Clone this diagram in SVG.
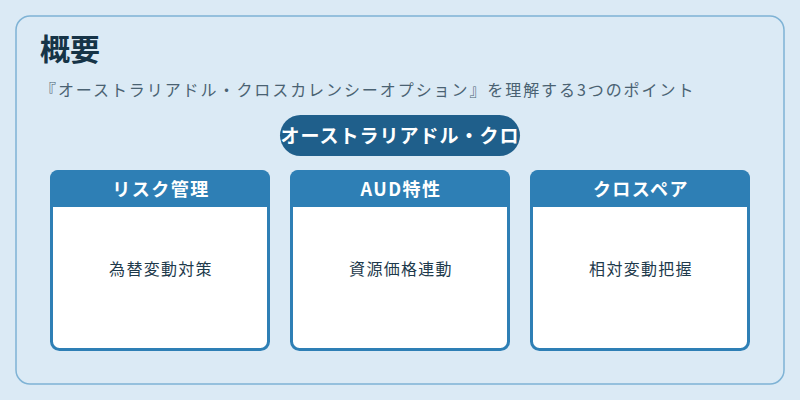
<svg xmlns="http://www.w3.org/2000/svg" width="800" height="400" viewBox="0 0 800 400">
<style>
text{font-family:"Noto Sans CJK JP","Noto Sans",sans-serif}
.card{fill:#fff;stroke:#2e7fb5;stroke-width:3}
.hd{fill:#2e7fb5}
.ht{fill:#fff;font-size:18px;font-weight:bold;text-anchor:middle;letter-spacing:1.5px}
.bt{fill:#1e3a4c;font-size:16px;text-anchor:middle;letter-spacing:1.3px}
</style>
<rect width="800" height="400" fill="#dbeaf5"/>
<rect x="16" y="16" width="768" height="368" rx="14" fill="#dbeaf5" stroke="#7fb3d5" stroke-width="1.5"/>
<text x="40" y="60" font-size="30" font-weight="bold" fill="#163447">概要</text>
<text x="40" y="96" font-size="16" fill="#4a6272" letter-spacing="1.6" textLength="655" lengthAdjust="spacing">『オーストラリアドル・クロスカレンシーオプション』を理解する3つのポイント</text>
<g id="pill"><rect x="280" y="115" width="240" height="41" rx="20.5" fill="#1f5f8b"/>
<text x="400" y="143" font-size="19" font-weight="bold" fill="#fff" text-anchor="middle" letter-spacing="1">オーストラリアドル・クロ</text></g>
<g id="c1"><rect class="card" x="51.5" y="171.5" width="217" height="178" rx="8"/><path class="hd" d="M50 178a8 8 0 0 1 8-8h204a8 8 0 0 1 8 8v29H50z"/><text class="ht" x="161" y="196">リスク管理</text><text class="bt" x="161" y="275">為替変動対策</text></g>
<g id="c2"><rect class="card" x="291.5" y="171.5" width="217" height="178" rx="8"/><path class="hd" d="M290 178a8 8 0 0 1 8-8h204a8 8 0 0 1 8 8v29H290z"/><text class="ht" x="401" y="196">AUD特性</text><text class="bt" x="401" y="275">資源価格連動</text></g>
<g id="c3"><rect class="card" x="531.5" y="171.5" width="217" height="178" rx="8"/><path class="hd" d="M530 178a8 8 0 0 1 8-8h204a8 8 0 0 1 8 8v29H530z"/><text class="ht" x="641" y="196">クロスペア</text><text class="bt" x="641" y="275">相対変動把握</text></g>
<g id="connectors"/>
</svg>
